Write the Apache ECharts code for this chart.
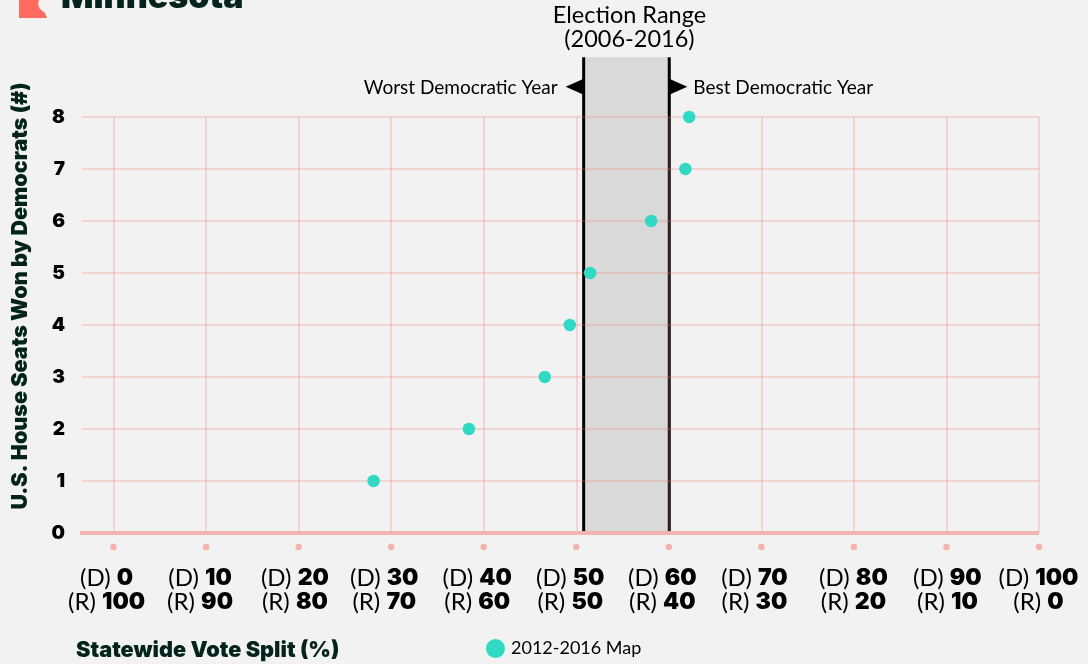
<!DOCTYPE html>
<html lang="en">
  <head>
    <meta charset="UTF-8" />
    <title>Minnesota</title>
    <style>
      html, body { margin: 0; padding: 0; background: #f2f2f2; }
      #chart { width: 1088px; height: 664px; }
    </style>
    <script src="https://cdn.jsdelivr.net/npm/echarts@6/dist/echarts.min.js"></script>
  </head>
  <body>
    <div id="chart"></div>
    <script>
      const voteSplit = [28.1, 38.4, 46.6, 49.3, 51.5, 58.1, 61.8, 62.2]
      const seatsWon = [1, 2, 3, 4, 5, 6, 7, 8]
      const xTicks = [0, 10, 20, 30, 40, 50, 60, 70, 80, 90, 100]
      // the labels in the picture sit a little left of their ticks
      const xLabelAt = [-0.75, 9.35, 19.6, 29.25, 39.3, 49.35, 59.3, 69.25, 79.95, 90.1, 99.95]
      const electionRange = [50.8, 60.05] // worst / best democratic year
      const seriesName = '2012-2016 Map'

      const ink = '#04231c'
      const bodyFont = 'Lato'
      const heavyFont = 'Inter'
      const gridColor = 'rgba(232, 120, 110, 0.32)'
      const pointData = voteSplit.map((v, i) => [v, seatsWon[i]])

      function renderRange(params, api) {
        const lo = api.coord([api.value(0), 0])
        const hi = api.coord([api.value(1), 9.15])
        const arrowY = api.coord([0, 8.58])[1]
        const x0 = lo[0]
        const x1 = hi[0]
        const labelStyle = { fill: '#000', font: '400 19px ' + bodyFont, verticalAlign: 'middle' }
        const titleStyle = { fill: '#000', font: '400 23.5px ' + bodyFont, align: 'center', verticalAlign: 'middle' }
        return {
          type: 'group',
          children: [
            { type: 'rect', shape: { x: x0, y: hi[1], width: x1 - x0, height: lo[1] - hi[1] }, style: { fill: '#d9d9d9' } },
            { type: 'line', shape: { x1: x0, y1: hi[1], x2: x0, y2: lo[1] }, style: { stroke: '#000', lineWidth: 3 } },
            { type: 'line', shape: { x1: x1, y1: hi[1], x2: x1, y2: lo[1] }, style: { stroke: '#000', lineWidth: 3 } },
            { type: 'polygon', shape: { points: [[x0, arrowY - 8], [x0, arrowY + 8], [x0 - 18, arrowY]] }, style: { fill: '#000' } },
            { type: 'polygon', shape: { points: [[x1, arrowY - 8], [x1, arrowY + 8], [x1 + 18, arrowY]] }, style: { fill: '#000' } },
            { type: 'text', style: Object.assign({ x: x0 - 26, y: arrowY + 1, text: 'Worst Democratic Year', align: 'right' }, labelStyle) },
            { type: 'text', style: Object.assign({ x: x1 + 24, y: arrowY + 1, text: 'Best Democratic Year', align: 'left' }, labelStyle) },
            { type: 'text', style: Object.assign({ x: (x0 + x1) / 2 + 3, y: 15, text: 'Election Range' }, titleStyle) },
            { type: 'text', style: Object.assign({ x: (x0 + x1) / 2 + 3, y: 39, text: '(2006-2016)' }, titleStyle) }
          ]
        }
      }

      const chart = echarts.init(document.getElementById('chart'))
      chart.setOption({
        backgroundColor: '#f2f2f2',
        animation: false,
        textStyle: { fontFamily: bodyFont },
        grid: { left: 82, right: 49, top: 117, bottom: 131 },
        legend: {
          data: [seriesName],
          left: 481,
          top: 634,
          icon: 'circle',
          itemWidth: 19,
          itemHeight: 19,
          itemGap: 0,
          textStyle: { fontFamily: bodyFont, fontSize: 18, color: '#000', padding: [0, 0, 0, 1] }
        },
        xAxis: {
          type: 'value',
          min: -3.405,
          max: 100,
          axisLine: { show: false },
          axisTick: { show: false, customValues: xTicks },
          splitLine: { show: true, lineStyle: { color: gridColor, width: 1.5 } },
          axisLabel: {
            customValues: xLabelAt,
            margin: 33,
            lineHeight: 24,
            color: '#000',
            fontFamily: bodyFont,
            fontSize: 24,
            formatter: (v) => {
              const d = Math.round(v / 10) * 10
              return '(D) {b|' + d + '}\n(R) {b|' + (100 - d) + '}'
            },
            rich: {
              b: { fontFamily: heavyFont, fontSize: 23, fontWeight: 900, color: '#000', lineHeight: 24 }
            }
          }
        },
        yAxis: {
          type: 'value',
          min: 0,
          max: 8,
          interval: 1,
          axisLine: { show: false },
          axisTick: { show: false },
          splitLine: { show: true, lineStyle: { color: gridColor, width: 1.5 } },
          axisLabel: { margin: 17, color: '#000', fontFamily: heavyFont, fontSize: 19, fontWeight: 900 }
        },
        graphic: [
          {
            type: 'polygon',
            shape: { points: [[19, 0], [39, 0], [38, 4], [40, 9], [45, 13], [47, 18], [19, 18]] },
            style: { fill: '#ff6b5e' }
          },
          { type: 'text', x: 61, y: -19, style: { text: 'Minnesota', fill: ink, font: '900 34px ' + heavyFont } },
          {
            type: 'text',
            x: 21,
            y: 296,
            rotation: Math.PI / 2,
            style: { text: 'U.S. House Seats Won by Democrats (#)', fill: ink, font: '900 21.5px ' + heavyFont, align: 'center', verticalAlign: 'middle' }
          },
          {
            type: 'text',
            x: 76,
            y: 650,
            style: { text: 'Statewide Vote Split (%)', fill: ink, font: '900 21.7px ' + heavyFont, verticalAlign: 'middle' }
          }
        ],
        series: [
          {
            type: 'custom',
            name: 'Election Range',
            silent: true,
            z: -1,
            renderItem: renderRange,
            data: [electionRange]
          },
          {
            type: 'line',
            name: 'baseline',
            silent: true,
            clip: false,
            symbol: 'none',
            lineStyle: { color: '#f4b4ae', width: 4 },
            data: [[-3.75, 0], [100, 0]]
          },
          {
            type: 'scatter',
            name: 'ticks',
            silent: true,
            clip: false,
            symbolSize: 6.5,
            itemStyle: { color: '#f4b4ae', opacity: 1 },
            data: xTicks.map((t) => [t, -0.27])
          },
          {
            type: 'scatter',
            name: seriesName,
            symbolSize: 12.5,
            z: 5,
            itemStyle: { color: '#2fd9c3', opacity: 1 },
            data: pointData
          }
        ]
      })
    </script>
  </body>
</html>
